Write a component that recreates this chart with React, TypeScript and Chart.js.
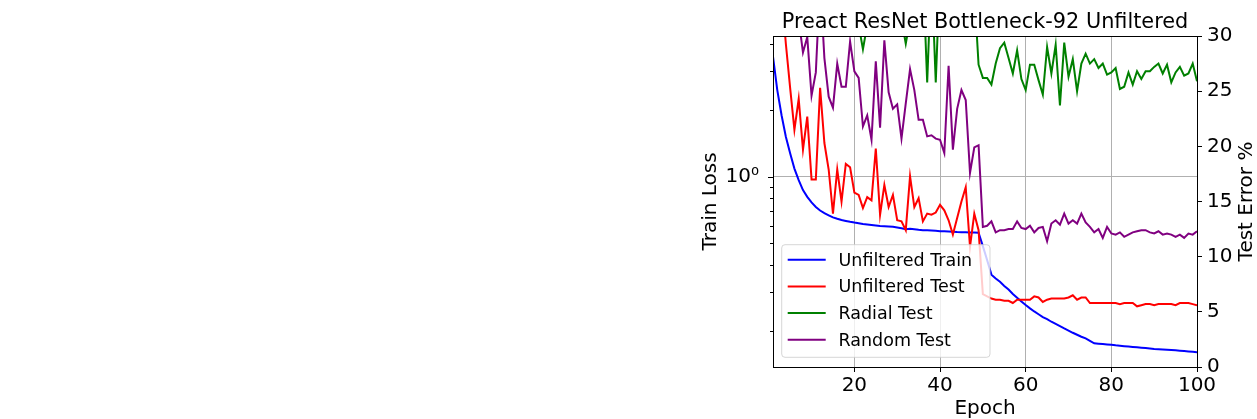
import React, { useEffect, useRef } from "react";
import { Chart, registerables } from "chart.js";

Chart.register(...registerables);

// ---------- data ----------
const epochs: number[] = Array.from({ length: 100 }, (_, i) => i + 1);

const unfilteredTrain: number[] = [
  3.5, 2.47, 1.9, 1.52, 1.28, 1.09, 0.966, 0.871, 0.812, 0.766,
  0.731, 0.704, 0.685, 0.67, 0.656, 0.646, 0.638, 0.632, 0.626, 0.621,
  0.617, 0.612, 0.609, 0.606, 0.603, 0.6, 0.598, 0.596, 0.594, 0.59,
  0.585, 0.579, 0.582, 0.58, 0.576, 0.574, 0.573, 0.572, 0.57, 0.568,
  0.567, 0.566, 0.565, 0.563, 0.562, 0.561, 0.56, 0.56, 0.559, 0.486,
  0.42, 0.361, 0.347, 0.335, 0.321, 0.309, 0.295, 0.284, 0.273, 0.263,
  0.254, 0.246, 0.239, 0.232, 0.227, 0.221, 0.216, 0.211, 0.206, 0.2015,
  0.197, 0.193, 0.189, 0.1857, 0.181, 0.1765, 0.1758, 0.1751, 0.1744, 0.1737,
  0.1728, 0.1721, 0.1714, 0.1707, 0.17, 0.1693, 0.1686, 0.1679, 0.1672, 0.1665,
  0.166, 0.1655, 0.165, 0.1645, 0.164, 0.1634, 0.1628, 0.1622, 0.1616, 0.161,
];

const unfilteredTest: number[] = [
  48, 40, 34, 29.3, 25.3, 21.5, 24.3, 19.7, 22.7, 17.0,
  17.0, 25.3, 20.3, 17.9, 13.9, 17.9, 15.0, 18.4, 18.1, 15.8,
  15.6, 14.4, 15.4, 15.1, 19.8, 13.8, 16.5, 14.5, 15.6, 13.3,
  13.2, 12.4, 17.3, 14.5, 15.3, 13.2, 13.9, 13.8, 14.0, 14.7,
  14.2, 13.3, 12.0, 13.5, 15.0, 16.3, 10.9, 13.9, 12.4, 6.6,
  6.4, 6.2, 6.1, 6.1, 6.0, 6.0, 5.8, 6.1, 6.1, 6.1,
  6.1, 6.4, 6.3, 5.9, 6.1, 6.2, 6.2, 6.2, 6.2, 6.3,
  6.5, 6.1, 6.3, 6.3, 5.8, 5.8, 5.8, 5.8, 5.8, 5.8,
  5.8, 5.7, 5.8, 5.8, 5.8, 5.5, 5.6, 5.7, 5.7, 5.6,
  5.7, 5.7, 5.7, 5.7, 5.6, 5.8, 5.8, 5.8, 5.7, 5.6,
];

const radialTest: number[] = [
  60, 52, 47, 44, 42, 40, 39, 38, 37, 36,
  36, 35, 35, 34, 34, 33, 33, 33, 32, 32,
  31, 28.8, 31, 32, 33, 32, 33, 32, 32, 31.5,
  31.5, 29.3, 31.5, 32, 33, 36, 25.8, 36, 25.8, 36,
  34, 33, 33, 32, 33, 33, 33, 34, 27.4, 26.2,
  26.2, 25.6, 27.5, 28.9, 29.4, 28.0, 26.6, 28.7, 26.1, 25.1,
  27.4, 27.4, 26.0, 24.7, 29.0, 26.6, 29.2, 23.7, 29.4, 26.3,
  27.9, 25.0, 27.5, 28.4, 27.5, 27.9, 27.1, 27.5, 26.5, 26.7,
  27.1, 25.2, 25.4, 26.7, 25.6, 26.8, 26.1, 26.8, 26.8, 27.2,
  27.5, 26.6, 27.4, 25.8, 26.7, 27.2, 26.4, 26.6, 27.5, 25.9,
];

const randomTest: number[] = [
  55, 48, 44, 40, 37, 34, 31.5, 28.5, 29.9, 24.6,
  26.7, 35, 28.0, 24.5, 23.5, 27.5, 25.4, 25.4, 29.5, 26.8,
  26.2, 21.8, 22.8, 20.6, 27.7, 21.7, 29.6, 24.9, 23.4, 23.8,
  20.7, 23.9, 27.0, 25.1, 22.4, 22.4, 20.9, 21.0, 20.7, 20.6,
  19.4, 27.3, 19.7, 23.4, 25.1, 24.2, 17.6, 19.9, 20.1, 12.7,
  12.8, 13.2, 12.2, 12.4, 12.4, 12.5, 12.5, 13.2, 12.6, 12.5,
  12.8, 12.2, 12.6, 12.7, 11.4, 13.0, 13.3, 12.9, 13.9, 13.0,
  13.3, 13.0, 13.9, 13.1, 12.7, 12.2, 12.5, 11.7, 12.7, 12.1,
  12.0, 12.2, 11.8, 12.0, 12.2, 12.3, 12.4, 12.4, 12.2, 12.1,
  12.3, 12.0, 12.1, 12.0, 11.8, 12.0, 11.7, 12.1, 12.0, 12.3,
];

const xTicks: number[] = [20, 40, 60, 80, 100];
const lossTicks: number[] = [0.2, 0.3, 0.4, 0.5, 0.6, 0.7, 0.8, 0.9, 1, 2, 3, 4];
const errorTicks: number[] = [0, 5, 10, 15, 20, 25, 30];

const seriesNames: string[] = ["Unfiltered Train", "Unfiltered Test", "Radial Test", "Random Test"];
const seriesColors: string[] = ["#0000ff", "#ff0000", "#008000", "#800080"];

const chartTitle = "Preact ResNet Bottleneck-92 Unfiltered";
const xTitle = "Epoch";
const yLeftTitle = "Train Loss";
const yRightTitle = "Test Error %";

const FAMILY = "'DejaVu Sans', 'Liberation Sans', sans-serif";

export default function App() {
  const ref = useRef<HTMLCanvasElement>(null);

  useEffect(() => {
    const canvas = ref.current;
    if (!canvas) return;

    const toXY = (arr: number[]) => arr.map((y, i) => ({ x: epochs[i], y }));

    const decorations = {
      id: "decorations",
      afterDatasetsDraw(chart: any) {
        const { ctx, chartArea: ca } = chart;
        const yL = chart.scales.yL;
        ctx.save();
        ctx.strokeStyle = "#000";
        ctx.lineWidth = 1;
        // left axis tick marks (major at 1, minor elsewhere)
        for (const v of lossTicks) {
          const y = Math.round(yL.getPixelForValue(v)) + 0.5;
          const len = v === 1 ? 5 : 3;
          ctx.beginPath();
          ctx.moveTo(ca.left - len, y);
          ctx.lineTo(ca.left, y);
          ctx.stroke();
        }
        // spines
        ctx.strokeRect(Math.round(ca.left) + 0.5, Math.round(ca.top) + 0.5,
          Math.round(ca.right) - Math.round(ca.left), Math.round(ca.bottom) - Math.round(ca.top));
        ctx.restore();
      },
      afterDraw(chart: any) {
        const { ctx, chartArea: ca } = chart;
        ctx.save();
        ctx.fillStyle = "#000";
        const cx = (ca.left + ca.right) / 2;
        const cy = (ca.top + ca.bottom) / 2;
        // title
        ctx.font = `20.8px ${FAMILY}`;
        ctx.textAlign = "center";
        ctx.textBaseline = "alphabetic";
        ctx.fillText(chartTitle, cx, 28.3);
        // x title
        ctx.font = `20px ${FAMILY}`;
        ctx.fillText(xTitle, cx, 413.5);
        // left y title
        ctx.save();
        ctx.translate(716, cy);
        ctx.rotate(-Math.PI / 2);
        ctx.fillText(yLeftTitle, 0, 0);
        ctx.restore();
        // right y title
        ctx.save();
        ctx.translate(1252, cy);
        ctx.rotate(-Math.PI / 2);
        ctx.fillText(yRightTitle, 0, 0);
        ctx.restore();

        // legend
        const w = 208.3;
        const h = 112.6;
        const lx = ca.left + 8.7;
        const ly = ca.bottom - 9.7 - h;
        const r = 3.3;
        ctx.beginPath();
        ctx.moveTo(lx + r, ly);
        ctx.lineTo(lx + w - r, ly);
        ctx.arcTo(lx + w, ly, lx + w, ly + r, r);
        ctx.lineTo(lx + w, ly + h - r);
        ctx.arcTo(lx + w, ly + h, lx + w - r, ly + h, r);
        ctx.lineTo(lx + r, ly + h);
        ctx.arcTo(lx, ly + h, lx, ly + h - r, r);
        ctx.lineTo(lx, ly + r);
        ctx.arcTo(lx, ly, lx + r, ly, r);
        ctx.closePath();
        ctx.fillStyle = "rgba(255,255,255,0.8)";
        ctx.fill();
        ctx.strokeStyle = "rgba(204,204,204,0.8)";
        ctx.lineWidth = 1;
        ctx.stroke();

        ctx.font = `17.5px ${FAMILY}`;
        ctx.textAlign = "left";
        ctx.textBaseline = "alphabetic";
        seriesNames.forEach((name, i) => {
          const y = ly + 15 + i * 26.7;
          ctx.strokeStyle = seriesColors[i];
          ctx.lineWidth = 2;
          ctx.beginPath();
          ctx.moveTo(lx + 6, y);
          ctx.lineTo(lx + 44, y);
          ctx.stroke();
          ctx.fillStyle = "#000";
          ctx.fillText(name, lx + 56.8, y + 6.0);
        });
        ctx.restore();
      },
    };

    const common = { borderWidth: 2, pointRadius: 0, tension: 0, clip: 0, fill: false };

    const chart = new Chart(canvas, {
      type: "line",
      data: {
        datasets: [
          { ...common, label: seriesNames[0], data: toXY(unfilteredTrain), yAxisID: "yL", borderColor: seriesColors[0], order: 4 },
          { ...common, label: seriesNames[1], data: toXY(unfilteredTest), yAxisID: "yR", borderColor: seriesColors[1], order: 3 },
          { ...common, label: seriesNames[2], data: toXY(radialTest), yAxisID: "yR", borderColor: seriesColors[2], order: 2 },
          { ...common, label: seriesNames[3], data: toXY(randomTest), yAxisID: "yR", borderColor: seriesColors[3], order: 1 },
        ] as any,
      },
      options: {
        responsive: false,
        animation: false,
        events: [],
        layout: { padding: { left: 693, right: 0, top: 36, bottom: 0 } },
        plugins: {
          legend: { display: false },
          title: { display: false },
          tooltip: { enabled: false },
        },
        scales: {
          x: {
            type: "linear",
            position: "bottom",
            min: 1,
            max: 100,
            afterBuildTicks: (s: any) => {
              s.ticks = xTicks.map((v) => ({ value: v }));
            },
            afterFit: (s: any) => {
              s.height = 52;
            },
            grid: {
              color: "#b0b0b0",
              lineWidth: 1,
              drawTicks: true,
              tickLength: 5,
              tickColor: "#000",
              tickWidth: 1,
            },
            border: { display: false },
            ticks: {
              font: { family: FAMILY, size: 20 },
              color: "#000",
              padding: 2,
              maxRotation: 0,
              autoSkip: false,
            },
          },
          yL: {
            type: "logarithmic",
            position: "left",
            min: 0.1379,
            max: 4.34,
            afterBuildTicks: (s: any) => {
              s.ticks = lossTicks.map((v) => ({ value: v }));
            },
            afterFit: (s: any) => {
              s.width = 80;
            },
            grid: {
              color: (c: any) => (c.tick && c.tick.value === 1 ? "#b0b0b0" : "rgba(0,0,0,0)"),
              lineWidth: 1,
              drawTicks: false,
            },
            border: { display: false },
            ticks: {
              callback: (v: any) => (Number(v) === 1 ? "10\u2070" : ""),
              font: { family: FAMILY, size: 20 },
              color: "#000",
              padding: 14,
              autoSkip: false,
            },
          },
          yR: {
            type: "linear",
            position: "right",
            min: 0,
            max: 30,
            afterBuildTicks: (s: any) => {
              s.ticks = errorTicks.map((v) => ({ value: v }));
            },
            afterFit: (s: any) => {
              s.width = 60;
            },
            grid: {
              drawOnChartArea: false,
              drawTicks: true,
              tickLength: 5,
              tickColor: "#000",
              tickWidth: 1,
            },
            border: { display: false },
            ticks: {
              font: { family: FAMILY, size: 20 },
              color: "#000",
              padding: 5,
              autoSkip: false,
            },
          },
        },
      } as any,
      plugins: [decorations],
    });

    return () => chart.destroy();
  }, []);

  return (
    <div style={{ position: "absolute", left: 0, top: 0, width: 1257, height: 419, background: "#fff" }}>
      <canvas ref={ref} width={1257} height={419} style={{ display: "block" }} />
    </div>
  );
}
